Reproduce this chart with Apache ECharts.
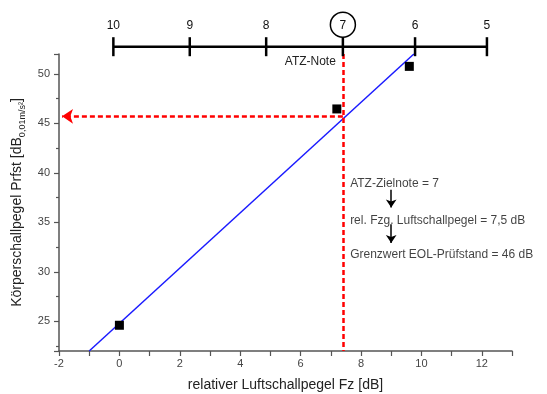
<!DOCTYPE html>
<html>
<head>
<meta charset="utf-8">
<script src="https://cdn.jsdelivr.net/npm/echarts@6/dist/echarts.min.js"></script>
<style>
html, body { margin: 0; padding: 0; background: #fff; }
#chart_1 { width: 547px; height: 394px; }
</style>
</head>
<body>
<div id="chart_1"></div>
<script>
// Messpunkte (rel. Luftschallpegel / Koerperschallpegel)
var pointsX = [0, 7.2, 9.6];
var pointsY = [24.6, 46.45, 50.75];
var fitX = [-1, 9.75];
var fitY = [22, 52];
// ATZ-Noten-Skala oben, Lage auf der Fz-Achse
var noteLabels = ['10', '9', '8', '7', '6', '5'];
var notePos = [-0.2, 2.33, 4.86, 7.4, 9.79, 12.17];
var targetNote = '7';
var targetFz = 7.4;
var targetLimit = 45.7;
// Textkasten rechts
var infoLines = ['ATZ-Zielnote = 7', 'rel. Fzg. Luftschallpegel = 7,5 dB', 'Grenzwert EOL-Prüfstand = 46 dB'];
var infoY = [38.85, 35.2, 31.7];

var FONT = 'Liberation Sans, Arial, sans-serif';

var dom = document.getElementById('chart_1');
var myChart = echarts.init(dom);

var option = {
	animation: false,
	backgroundColor: '#ffffff',
	grid: {
		left: 59,
		right: 35,
		top: 54,
		bottom: 43,
		containLabel: false,
		outerBoundsMode: 'none'
	},
	xAxis: {
		type: 'value',
		min: -2,
		max: 13,
		interval: 2,
		name: 'relativer Luftschallpegel Fz [dB]',
		nameLocation: 'middle',
		nameGap: 27,
		nameTextStyle: { fontFamily: FONT, fontSize: 14, color: '#222' },
		axisLine: { onZero: false, lineStyle: { color: '#555', width: 1.5 } },
		axisTick: { show: true, length: 5, lineStyle: { color: '#555', width: 1.2 } },
		minorTick: { show: true, splitNumber: 2, length: 5, lineStyle: { color: '#555', width: 1.2 } },
		axisLabel: { fontFamily: FONT, fontSize: 11, color: '#444', margin: 7, showMaxLabel: false },
		splitLine: { show: false }
	},
	yAxis: {
		type: 'value',
		min: 22,
		max: 52,
		splitNumber: 6,
		name: 'Körperschallpegel Prfst [dB{sub|0,01m/s²}]',
		nameLocation: 'middle',
		nameRotate: 90,
		nameGap: 29,
		nameTextStyle: {
			fontFamily: FONT, fontSize: 14, color: '#222', lineHeight: 20, verticalAlign: 'middle',
			rich: {
				sub: { fontFamily: FONT, fontSize: 9, color: '#222', lineHeight: 20, verticalAlign: 'bottom' }
			}
		},
		axisLine: { show: true, onZero: false, lineStyle: { color: '#555', width: 1.5 } },
		axisTick: { show: true, length: 5, lineStyle: { color: '#555', width: 1.2 } },
		minorTick: { show: true, splitNumber: 2, length: 3, lineStyle: { color: '#555', width: 1.2 } },
		axisLabel: { fontFamily: FONT, fontSize: 11, color: '#444', margin: 9, showMinLabel: false, showMaxLabel: false },
		splitLine: { show: false }
	},
	series: [{
		// Regressionsgerade + rote Hilfslinien
		type: 'line',
		data: fitX.map(function (x, i) { return [x, fitY[i]]; }),
		symbol: 'none',
		clip: false,
		lineStyle: { color: '#1a1aff', width: 1.5 },
		z: 3,
		markLine: {
			silent: true,
			animation: false,
			label: { show: false },
			symbol: ['none', 'arrow'],
			symbolSize: 11,
			lineStyle: { color: '#ff0000', width: 2.5, type: [5, 3] },
			data: [
				[{ coord: [targetFz, 52], symbol: 'none' }, { coord: [targetFz, 22], symbol: 'none' }],
				[{ coord: [targetFz, targetLimit] }, { coord: [-1.9, targetLimit] }]
			]
		}
	}, {
		// Messpunkte
		type: 'scatter',
		data: pointsX.map(function (x, i) { return [x, pointsY[i]]; }),
		symbol: 'rect',
		symbolSize: 9,
		itemStyle: { color: '#000', opacity: 1 },
		z: 4
	}, {
		// Textkasten
		type: 'scatter',
		data: infoLines.map(function (t, i) { return { name: t, value: [7.64, infoY[i]] }; }),
		symbolSize: 0,
		silent: true,
		label: {
			show: true,
			position: 'right',
			distance: 0,
			formatter: '{b}',
			fontFamily: FONT,
			fontSize: 12,
			color: '#111'
		},
		markLine: {
			silent: true,
			animation: false,
			label: { show: false },
			symbol: ['none', 'arrow'],
			symbolSize: 8,
			lineStyle: { color: '#000', width: 1.5, type: 'solid' },
			data: [
				[{ coord: [9.0, 38.3] }, { coord: [9.0, 36.5] }],
				[{ coord: [9.0, 34.8] }, { coord: [9.0, 32.9] }]
			]
		}
	}, {
		// ATZ-Noten-Skala oben
		type: 'custom',
		clip: false,
		silent: true,
		data: notePos.map(function (p, i) { return [p, i]; }),
		renderItem: function (params, api) {
			var i = api.value(1);
			var pt = api.coord([api.value(0), 52]);
			var x = pt[0];
			var y = pt[1] - 7.3;
			var children = [{
				type: 'line',
				shape: { x1: x, y1: y - 9.5, x2: x, y2: y + 9.5 },
				style: { stroke: '#000', lineWidth: 2.5 }
			}, {
				type: 'text',
				style: {
					text: noteLabels[i], x: x, y: y - 21.5,
					align: 'center', verticalAlign: 'middle',
					fontFamily: FONT, fontSize: 12, fill: '#111'
				}
			}];
			if (i == 0) {
				var end = api.coord([notePos[notePos.length - 1], 52]);
				children.push({
					type: 'line',
					shape: { x1: x, y1: y, x2: end[0], y2: y },
					style: { stroke: '#000', lineWidth: 2.5 }
				});
			}
			if (noteLabels[i] == targetNote) {
				children.push({
					type: 'circle',
					shape: { cx: x, cy: y - 22, r: 12.5 },
					style: { fill: 'none', stroke: '#000', lineWidth: 1.5 }
				});
				children.push({
					type: 'text',
					style: {
						text: 'ATZ-Note', x: x - 7, y: y + 15,
						align: 'right', verticalAlign: 'middle',
						fontFamily: FONT, fontSize: 12, fill: '#222'
					}
				});
			}
			return { type: 'group', children: children };
		},
		z: 5
	}]
};
myChart.setOption(option);
</script>
</body>
</html>
